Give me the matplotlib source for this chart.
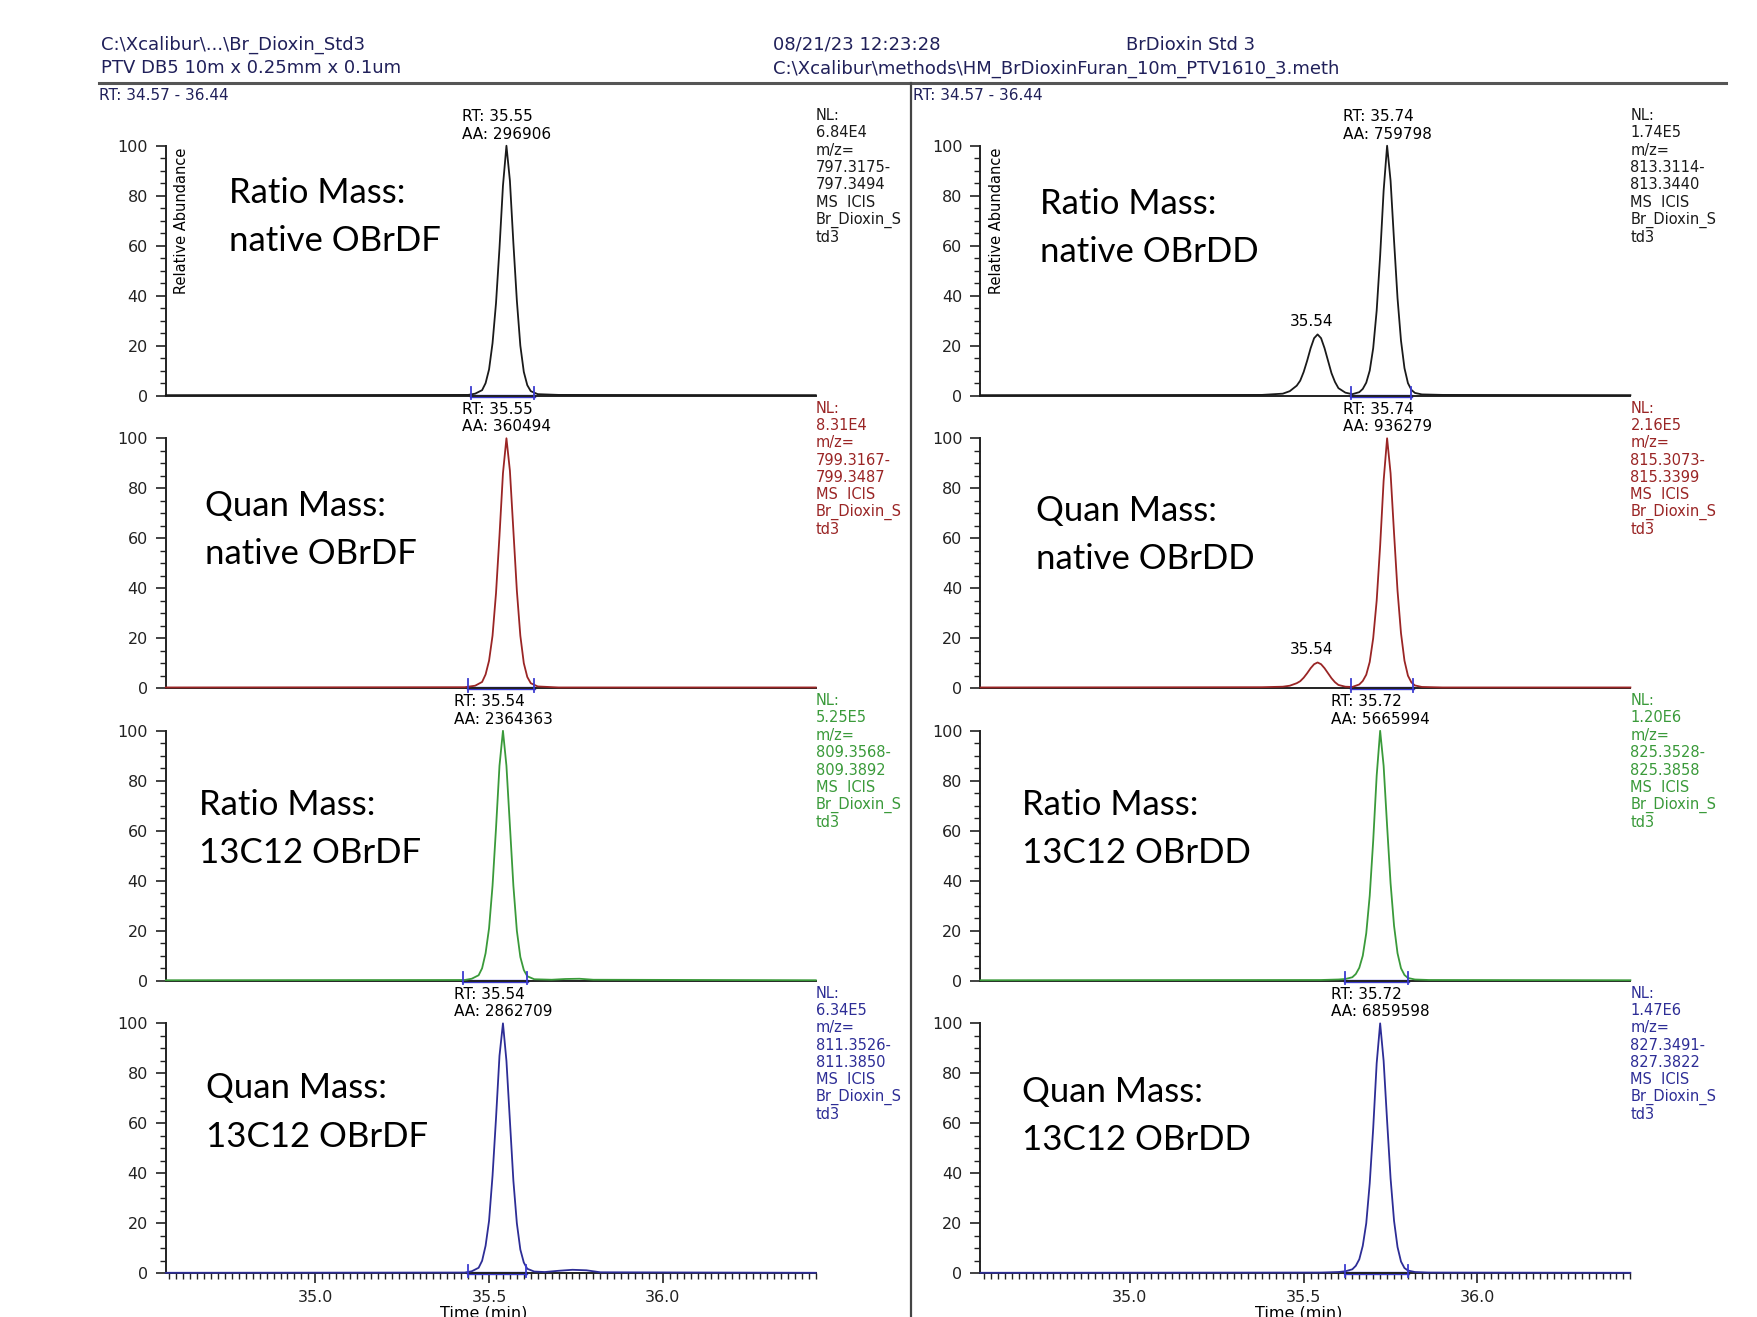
import matplotlib
matplotlib.use("Agg")
import matplotlib.pyplot as plt
from matplotlib.ticker import MultipleLocator, FixedLocator
from matplotlib.lines import Line2D
from matplotlib.transforms import Bbox, TransformedBbox

# traces (time in min, relative abundance in %)
l1_t = [34.57, 35.44, 35.46, 35.48, 35.49, 35.50, 35.51, 35.52, 35.53, 35.54, 35.55, 35.56,
        35.57, 35.58, 35.59, 35.60, 35.61, 35.62, 35.64, 35.70, 36.44]
l1_y = [0.2, 0.3, 0.8, 2.2, 5, 10.5, 21, 37, 59, 84, 100, 86, 61, 38, 20, 9.5, 4.2, 1.8, 0.6, 0.3, 0.2]

l2_t = [34.57, 35.43, 35.46, 35.48, 35.49, 35.50, 35.51, 35.52, 35.53, 35.54, 35.55, 35.56,
        35.57, 35.58, 35.59, 35.60, 35.61, 35.62, 35.64, 35.70, 36.44]
l2_y = [0.3, 0.4, 1.0, 2.5, 5.5, 11, 21, 38, 61, 86, 100, 87, 63, 39, 21, 10, 4.5, 2, 0.7, 0.3, 0.3]

l3_t = [34.57, 35.43, 35.45, 35.47, 35.48, 35.49, 35.50, 35.51, 35.52, 35.53, 35.54, 35.55,
        35.56, 35.57, 35.58, 35.59, 35.60, 35.61, 35.63, 35.68, 35.72, 35.76, 35.80, 36.44]
l3_y = [0.2, 0.3, 0.8, 2.2, 5, 11, 21, 38, 61, 86, 100, 86, 62, 38, 20, 9.5, 4.3, 1.8, 0.6,
        0.4, 0.7, 0.8, 0.4, 0.2]

l4_t = [34.57, 35.43, 35.45, 35.47, 35.48, 35.49, 35.50, 35.51, 35.52, 35.53, 35.54, 35.55,
        35.56, 35.57, 35.58, 35.59, 35.60, 35.61, 35.63, 35.66, 35.70, 35.74, 35.78, 35.82, 36.44]
l4_y = [0.2, 0.3, 0.8, 2.2, 5, 11, 21, 39, 62, 87, 100, 85, 61, 37, 20, 9.5, 4.3, 1.8, 0.7,
        0.5, 1.0, 1.4, 1.2, 0.4, 0.2]

r12_t = [34.57, 35.38, 35.44, 35.46, 35.48, 35.49, 35.50, 35.51, 35.52, 35.53, 35.54, 35.55,
         35.56, 35.57, 35.58, 35.59, 35.60, 35.62, 35.64, 35.66, 35.67, 35.68, 35.69, 35.70,
         35.71, 35.72, 35.73, 35.74, 35.75, 35.76, 35.77, 35.78, 35.79, 35.80, 35.81, 35.82,
         35.84, 35.90, 36.44]
r1_y = [0.2, 0.3, 0.8, 1.8, 4, 6, 9.5, 14, 19, 23, 24.5, 23, 19, 14, 9, 5.5, 3, 1.2, 0.6,
        1.4, 2.7, 5.2, 10, 19, 34, 56, 82, 100, 86, 62, 39, 22, 11, 5, 2.3, 1.1, 0.5, 0.3, 0.2]
r2_y = [0.3, 0.4, 0.6, 1.0, 2, 2.8, 4.2, 6, 8, 9.6, 10.3, 9.6, 8, 6, 4, 2.4, 1.3, 0.6, 0.5,
        1.5, 2.9, 5.4, 10.5, 20, 35, 57, 83, 100, 86, 62, 39, 22, 11, 5, 2.3, 1.1, 0.5, 0.3, 0.3]

r34_t = [34.57, 35.55, 35.60, 35.62, 35.64, 35.65, 35.66, 35.67, 35.68, 35.69, 35.70, 35.71,
         35.72, 35.73, 35.74, 35.75, 35.76, 35.77, 35.78, 35.79, 35.80, 35.82, 35.86, 36.44]
r3_y = [0.2, 0.3, 0.5, 0.7, 1.4, 2.7, 5.2, 10, 19, 34, 56, 82, 100, 86, 62, 39, 22, 11, 5,
        2.3, 1.1, 0.5, 0.3, 0.2]
r4_y = [0.2, 0.3, 0.5, 0.8, 1.6, 3.0, 5.6, 11, 20, 36, 58, 84, 100, 85, 61, 38, 21, 10.5, 4.7,
        2.1, 1.1, 0.5, 0.3, 0.2]

traces = [(l1_t, l1_y), (l2_t, l2_y), (l3_t, l3_y), (l4_t, l4_y),
          (r12_t, r1_y), (r12_t, r2_y), (r34_t, r3_y), (r34_t, r4_y)]

rt = [35.55, 35.55, 35.54, 35.54, 35.74, 35.74, 35.72, 35.72]
aa = ["296906", "360494", "2364363", "2862709", "759798", "936279", "5665994", "6859598"]
integ = [(35.447, 35.628), (35.44, 35.63), (35.425, 35.61), (35.44, 35.605),
         (35.635, 35.81), (35.635, 35.815), (35.62, 35.80), (35.62, 35.80)]
nl = ["6.84E4", "8.31E4", "5.25E5", "6.34E5", "1.74E5", "2.16E5", "1.20E6", "1.47E6"]
mz = [("797.3175-", "797.3494"), ("799.3167-", "799.3487"), ("809.3568-", "809.3892"),
      ("811.3526-", "811.3850"), ("813.3114-", "813.3440"), ("815.3073-", "815.3399"),
      ("825.3528-", "825.3858"), ("827.3491-", "827.3822")]
minor_peak = [None, None, None, None, (35.54, 24.5), (35.54, 10.3), None, None]

labels = [("Ratio Mass:", "native OBrDF"), ("Quan Mass:", "native OBrDF"),
          ("Ratio Mass:", "13C12 OBrDF"), ("Quan Mass:", "13C12 OBrDF"),
          ("Ratio Mass:", "native OBrDD"), ("Quan Mass:", "native OBrDD"),
          ("Ratio Mass:", "13C12 OBrDD"), ("Quan Mass:", "13C12 OBrDD")]
label_pos = [(204, 172), (183, 451), (178, 718), (184, 971),
             (928, 182), (925, 456), (912, 718), (912, 974)]

colors = ["#1a1a1a", "#9a2525", "#3a9a3a", "#2d2d96"]
blue = "#3b3bd0"
ink = "#20205a"
small = "DejaVu Sans"


def fx(x):
    return x / 1568


def fy(y):
    return 1 - y / 1175


fig = plt.figure(figsize=(17.57, 13.17), dpi=100)

col_x = [148, 875]
row_bottom = [353, 614, 875, 1136]
left_clip = TransformedBbox(Bbox([[0, 0], [fx(813), 1]]), fig.transFigure)

for i in range(8):
    c, r = divmod(i, 4)
    ax = fig.add_axes([fx(col_x[c]), fy(row_bottom[r]), 580 / 1568, 223 / 1175])
    col = colors[r]
    t, y = traces[i]
    ax.set_xlim(34.57, 36.44)
    ax.set_ylim(0, 100)
    for s in ["top", "right"]:
        ax.spines[s].set_visible(False)
    for s in ["left", "bottom"]:
        ax.spines[s].set_linewidth(1.4)
        ax.spines[s].set_color("#222222")
    ax.yaxis.set_major_locator(FixedLocator([0, 20, 40, 60, 80, 100]))
    ax.yaxis.set_minor_locator(MultipleLocator(5))
    ax.tick_params(axis="y", which="major", length=7, width=1.2, pad=6,
                   labelsize=11.5, colors="#222222")
    ax.tick_params(axis="y", which="minor", length=4, width=1.0, colors="#222222")
    if r == 3:
        ax.xaxis.set_major_locator(FixedLocator([35.0, 35.5, 36.0]))
        ax.xaxis.set_minor_locator(MultipleLocator(0.02))
        ax.set_xticklabels(["35.0", "35.5", "36.0"])
        ax.tick_params(axis="x", which="major", length=7, width=1.2, pad=5,
                       labelsize=11.5, colors="#222222")
        ax.tick_params(axis="x", which="minor", length=4, width=1.0, colors="#222222")
    else:
        ax.tick_params(axis="x", which="both", bottom=False, labelbottom=False)
    for lab in ax.get_xticklabels() + ax.get_yticklabels():
        lab.set_family(small)

    # integration baseline and markers
    s0, s1 = integ[i]
    ax.plot([s0, s1], [0, 0], color=blue, lw=2.4, zorder=2.5, clip_on=False)
    for s in (s0, s1):
        ax.plot([s, s], [-1.5, 3.5], color=blue, lw=1.3, zorder=4, clip_on=False)

    ax.plot(t, y, color=col, lw=1.3, zorder=3, clip_on=False)

    ax.annotate("RT: %.2f\nAA: %s" % (rt[i], aa[i]), xy=(rt[i], 100), xytext=(0, 3),
                textcoords="offset points", ha="center", va="bottom",
                multialignment="left", fontsize=11, family=small, linespacing=1.2)
    if minor_peak[i]:
        mx, my = minor_peak[i]
        ax.annotate("%.2f" % mx, xy=(mx, my), xytext=(-4, 9), textcoords="offset points",
                    ha="center", va="center", fontsize=11, family=small)

    block = ["NL:", nl[i], "m/z=", mz[i][0], mz[i][1], "MS  ICIS", "Br_Dioxin_S", "td3"]
    for k, line in enumerate(block):
        tx = ax.text(1.0, 1.121 - k * 0.0695, line, transform=ax.transAxes, ha="left",
                     va="center", fontsize=10.5, family=small, color=col)
        if c == 0:
            tx.set_clip_box(left_clip)
            tx.set_clip_on(True)

    lx, ly = label_pos[i]
    fig.text(fx(lx), fy(ly), labels[i][0], fontsize=25, family="Lato", va="center")
    fig.text(fx(lx), fy(ly + 43), labels[i][1], fontsize=25, family="Lato", va="center")

    if r == 0:
        fig.text(fx(col_x[c] + 14), fy(197), "Relative Abundance", rotation=90,
                 ha="center", va="center", fontsize=10.5, family=small)
    if r == 3:
        fig.text(fx(col_x[c] + 284), fy(1171), "Time (min)", ha="center", va="center",
                 fontsize=11.5, family=small)

# header
fig.text(fx(90), fy(40), r"C:\Xcalibur\...\Br_Dioxin_Std3", va="center", fontsize=13,
         family=small, color=ink)
fig.text(fx(90), fy(61), "PTV DB5 10m x 0.25mm x 0.1um", va="center", fontsize=13,
         family=small, color=ink)
fig.text(fx(690), fy(40), "08/21/23 12:23:28", va="center", fontsize=13, family=small,
         color=ink)
fig.text(fx(1005), fy(40), "BrDioxin Std 3", va="center", fontsize=13, family=small,
         color=ink)
fig.text(fx(690), fy(61), r"C:\Xcalibur\methods\HM_BrDioxinFuran_10m_PTV1610_3.meth",
         va="center", fontsize=13, family=small, color=ink)
fig.text(fx(88), fy(85), "RT: 34.57 - 36.44", va="center", fontsize=11, family=small,
         color=ink)
fig.text(fx(815), fy(85), "RT: 34.57 - 36.44", va="center", fontsize=11, family=small,
         color=ink)

fig.add_artist(Line2D([fx(88), fx(1540)], [fy(74), fy(74)], color="#555555", lw=2.2))
fig.add_artist(Line2D([fx(813), fx(813)], [fy(74), 0], color="#444444", lw=1.6))

fig.savefig("out.png", dpi=100)
